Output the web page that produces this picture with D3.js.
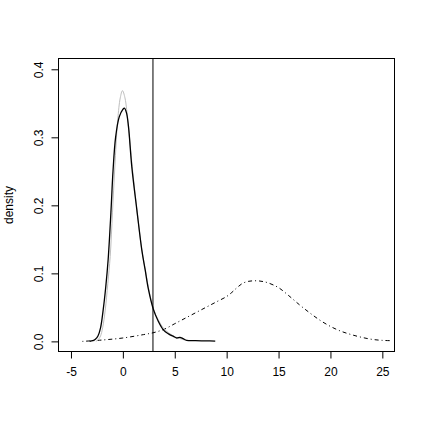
<!DOCTYPE html>
<html>
<head>
<meta charset="utf-8">
<script src="https://cdn.jsdelivr.net/npm/d3@7"></script>
<style>
  html, body { margin: 0; padding: 0; background: #fff; }
  svg { display: block; }
  text { font-family: "Liberation Sans", Arial, sans-serif; font-size: 12px; fill: #000; }
</style>
</head>
<body>
<svg id="chart" width="425" height="425"></svg>
<script>
// ---- data ----
const xTicks = [-5, 0, 5, 10, 15, 20, 25];
const yTicks = [0.0, 0.1, 0.2, 0.3, 0.4];
const yLabel = "density";
const cutoff = 2.9;

// sample density (solid black)
const blackX = [-3.2, -2.9, -2.65, -2.4, -2.15, -1.9, -1.65, -1.42, -1.15, -0.95, -0.7, -0.35, 0.0, 0.15, 0.35, 0.54, 0.86, 1.35, 1.82, 2.15, 2.47, 2.94, 3.4, 3.9, 4.4, 4.87, 5.2, 5.5, 5.8, 6.15, 7.0, 8.0, 8.9];
const blackY = [0.000, 0.001, 0.003, 0.008, 0.020, 0.046, 0.080, 0.120, 0.190, 0.250, 0.300, 0.330, 0.341, 0.343, 0.336, 0.316, 0.257, 0.193, 0.135, 0.105, 0.076, 0.047, 0.030, 0.017, 0.011, 0.0073, 0.005, 0.006, 0.004, 0.0015, 0.001, 0.0008, 0.0005];

// reference density (light gray)
const grayX = [-2.6, -2.35, -2.15, -1.95, -1.7, -1.45, -1.22, -1.0, -0.78, -0.5, -0.25, -0.04, 0.2, 0.5, 0.9, 1.38, 1.85, 2.2, 2.5, 2.95, 3.4, 4.0, 5.0, 6.0];
const grayY = [0.000, 0.003, 0.008, 0.020, 0.046, 0.085, 0.125, 0.190, 0.255, 0.325, 0.358, 0.3686, 0.358, 0.320, 0.257, 0.190, 0.132, 0.102, 0.076, 0.048, 0.032, 0.018, 0.007, 0.002];

// wide density (dot-dash)
const dashX = [-3.9, -2, 0, 2, 3, 4, 5, 6, 7, 8, 9, 10, 10.5, 11, 11.5, 12, 12.5, 13, 13.5, 14, 15, 16, 17, 18, 19, 20, 21, 22, 23, 24, 25, 26];
const dashY = [0.000, 0.002, 0.005, 0.010, 0.013, 0.018, 0.026, 0.034, 0.042, 0.050, 0.058, 0.066, 0.072, 0.079, 0.085, 0.088, 0.089, 0.089, 0.088, 0.086, 0.079, 0.067, 0.054, 0.042, 0.031, 0.022, 0.015, 0.010, 0.006, 0.003, 0.0015, 0.001];

// ---- drawing ----
const svg = d3.select("#chart");
const box = { left: 58, right: 395, top: 58, bottom: 352 };

const x = d3.scaleLinear().domain([-6.25, 26.22]).range([box.left, box.right]);
const y = d3.scaleLinear().domain([-0.0156, 0.4166]).range([box.bottom, box.top]);

svg.append("defs").append("clipPath").attr("id", "plotclip")
  .append("rect").attr("x", box.left).attr("y", box.top)
  .attr("width", box.right - box.left).attr("height", box.bottom - box.top);

const plot = svg.append("g").attr("clip-path", "url(#plotclip)");

const line = d3.line().x(d => x(d[0])).y(d => y(Math.max(0, d[1])))
  .curve(d3.curveCatmullRom.alpha(0.5));

plot.append("path")
  .datum(dashX.map((v, i) => [v, dashY[i]]))
  .attr("d", line).attr("fill", "none").attr("stroke", "#000")
  .attr("stroke-width", 1).attr("stroke-dasharray", "1,3,4,3");

plot.append("path")
  .datum(grayX.map((v, i) => [v, grayY[i]]))
  .attr("d", line).attr("fill", "none").attr("stroke", "#bebebe")
  .attr("stroke-width", 1);

plot.append("path")
  .datum(blackX.map((v, i) => [v, blackY[i]]))
  .attr("d", line).attr("fill", "none").attr("stroke", "#000")
  .attr("stroke-width", 1.3);

plot.append("line")
  .attr("x1", x(cutoff)).attr("x2", x(cutoff))
  .attr("y1", box.top).attr("y2", box.bottom)
  .attr("stroke", "#000").attr("stroke-width", 1);

// box
svg.append("rect")
  .attr("x", box.left + 0.5).attr("y", box.top + 0.5)
  .attr("width", box.right - box.left - 1).attr("height", box.bottom - box.top - 1)
  .attr("fill", "none").attr("stroke", "#000").attr("stroke-width", 1);

// x axis
const xAxis = d3.axisBottom(x).tickValues(xTicks).tickSize(7).tickPadding(9)
  .tickFormat(d => String(d));
const gx = svg.append("g").attr("transform", `translate(0,${box.bottom - 0.5})`).call(xAxis);
gx.select(".domain").attr("d", `M${x(xTicks[0])},0H${x(xTicks[xTicks.length - 1])}`);
gx.selectAll("text").style("font-size", "12px").attr("font-family", null);

// y axis
const yAxis = d3.axisLeft(y).tickValues(yTicks).tickSize(7).tickPadding(0)
  .tickFormat(d3.format(".1f"));
const gy = svg.append("g").attr("transform", `translate(${box.left + 0.5},0)`).call(yAxis);
gy.select(".domain").attr("d", `M0,${y(yTicks[0])}V${y(yTicks[yTicks.length - 1])}`);
gy.selectAll(".tick text")
  .attr("x", null).attr("dy", null)
  .attr("text-anchor", "middle")
  .attr("transform", "translate(-16,0) rotate(-90)")
  .style("font-size", "12px").attr("font-family", null);

// y label
svg.append("text")
  .attr("transform", `translate(13,${(box.top + box.bottom) / 2}) rotate(-90)`)
  .attr("text-anchor", "middle")
  .text(yLabel);
</script>
</body>
</html>
